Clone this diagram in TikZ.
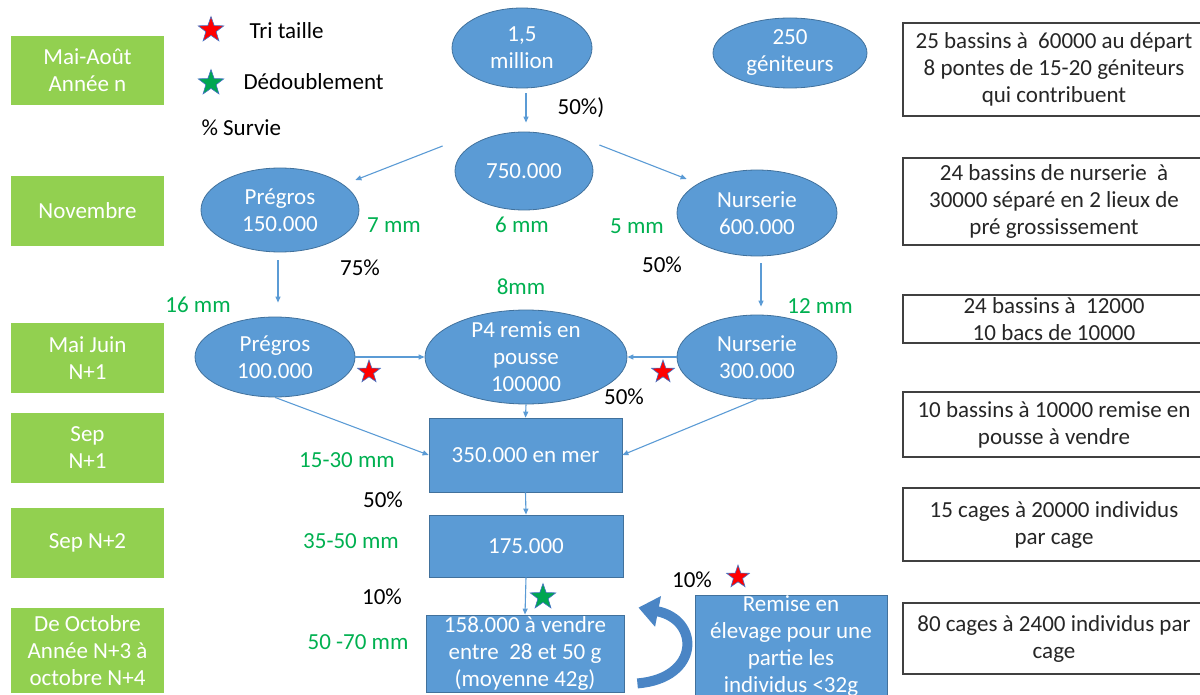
\documentclass[tikz,border=0pt]{standalone}
\usepackage{fontspec}
\setmainfont{Carlito}
\usetikzlibrary{arrows.meta,shapes.geometric}
\definecolor{vertper}{HTML}{92D050}
\definecolor{bleu}{HTML}{5B9BD5}
\definecolor{bleufonce}{HTML}{41719C}
\definecolor{vertmm}{HTML}{00B050}
\definecolor{courbe}{HTML}{4A85C5}
\definecolor{gris}{HTML}{404040}
\definecolor{texte}{HTML}{262626}
\definecolor{bleuetoile}{HTML}{4472C4}
\definecolor{vertetoile}{HTML}{00A651}
\begin{document}
\begin{tikzpicture}[x=1pt,y=-1pt,
        font=\fontsize{23}{27}\selectfont,
        periode/.style={fill=vertper,text=white,minimum width=153pt,align=center,inner sep=0pt},
        stade/.style={ellipse,fill=bleu,draw=bleufonce,line width=0.8pt,text=white,align=center,inner sep=0pt,inner ysep=-8pt},
        lot/.style={rectangle,fill=bleu,draw=bleufonce,line width=0.8pt,text=white,align=center,inner sep=0pt},
        infobox/.style={draw=gris,line width=1.3pt,fill=white,text=texte,align=center,minimum width=302pt,inner sep=0pt},
        taille/.style={text=vertmm},
        survie/.style={text=black},
        flux/.style={draw=bleu,line width=1.1pt,-{Triangle[length=6pt,width=5pt]}},
        retour/.style={draw=courbe,line width=10pt,-{Triangle[length=20pt,width=30pt]}},
        tri/.style={star,star points=5,star point ratio=2.5,fill=red,draw=bleuetoile,line width=0.6pt,minimum size=24pt,inner sep=0pt},
        dedouble/.style={tri,fill=vertetoile}]
        \useasboundingbox (0,0) rectangle (1200,695);
        \clip (0,0) rectangle (1200,695);
        \node[periode,minimum height=69pt] (per1) at (87.5,70.5) {Mai-Août\\Année n};
        \node[periode,minimum height=70pt] (per2) at (87.5,211) {Novembre};
        \node[periode,minimum height=70pt] (per3) at (87.5,358) {Mai Juin\\N+1};
        \node[periode,minimum height=70pt] (per4) at (87.5,448) {Sep\\N+1};
        \node[periode,minimum height=70pt] (per5) at (87.5,543) {Sep N+2};
        \node[periode,minimum height=85pt] (per6) at (87.5,650.5) {De Octobre\\Année N+3 à\\octobre N+4};
        \node[tri,minimum size=27pt] (legtri) at (211,30) {};
        \node[anchor=west] (legtritxt) at (246,31) {Tri taille};
        \node[dedouble,minimum size=27pt] (legded) at (211,83) {};
        \node[anchor=west] (legdedtxt) at (240,82) {Dédoublement};
        \node[anchor=west] (legsurv) at (198,128) {\% Survie};
        \node[stade,minimum width=140pt,minimum height=80pt] (e15) at (522,48) {1,5\\million};
        \node[stade,minimum width=154pt,minimum height=70pt] (e250) at (790,53) {250\\géniteurs};
        \node[stade,minimum width=138pt,minimum height=78pt] (e750) at (524,171) {750.000};
        \node[stade,minimum width=158pt,minimum height=84pt] (pregA) at (280,210) {Prégros\\150.000};
        \node[stade,minimum width=160pt,minimum height=86pt] (nursA) at (757,213) {Nurserie\\600.000};
        \node[stade,minimum width=160pt,minimum height=80pt] (pregB) at (275,357) {Prégros\\100.000};
        \node[stade,minimum width=202pt,minimum height=94pt] (p4) at (526,357) {P4 remis en\\pousse\\100000};
        \node[stade,minimum width=160pt,minimum height=84pt] (nursB) at (757,357) {Nurserie\\300.000};
        \node[lot,minimum width=193pt,minimum height=74pt] (r350) at (525.5,455) {350.000 en mer};
        \node[lot,minimum width=194pt,minimum height=62pt] (r175) at (526,546) {175.000};
        \node[lot,minimum width=198pt,minimum height=77pt] (r158) at (525,653.5) {158.000 à vendre\\entre\ \ 28 et 50 g\\(moyenne 42g)};
        \node[lot,minimum width=192pt,minimum height=102pt] (remise) at (791,646) {Remise en\\élevage pour une\\partie les\\individus <32g};
        \node[infobox,minimum height=93pt] (info1) at (1054,69.5) {25 bassins à\ \ 60000 au départ\\8 pontes de 15-20 géniteurs\\qui contribuent};
        \node[infobox,minimum height=87pt] (info2) at (1054,201.5) {24 bassins de nurserie\ \ à\\30000 séparé en 2 lieux de\\pré grossissement};
        \node[infobox,minimum height=48pt] (info3) at (1054,319) {24 bassins à\ \ 12000\\10 bacs de 10000};
        \node[infobox,minimum height=65pt] (info4) at (1054,424.5) {10 bassins à 10000 remise en\\pousse à vendre};
        \node[infobox,minimum height=73pt] (info5) at (1054,524.5) {15 cages à 20000 individus\\par cage};
        \node[infobox,minimum height=71pt] (info6) at (1054,638.5) {80 cages à 2400 individus par\\cage};
        \node[survie] (sv1) at (581,108) {50\%)};
        \node[survie] (sv2) at (360,268) {75\%};
        \node[survie] (sv3) at (662,265) {50\%};
        \node[survie] (sv4) at (624,397) {50\%};
        \node[survie] (sv5) at (383,500) {50\%};
        \node[survie] (sv6) at (382,597) {10\%};
        \node[survie] (sv7) at (692,580) {10\%};
        \node[taille] (tl1) at (394,225) {7 mm};
        \node[taille] (tl2) at (522,225) {6 mm};
        \node[taille] (tl3) at (637,226) {5 mm};
        \node[taille] (tl4) at (521,287) {8mm};
        \node[taille] (tl5) at (198,305) {16 mm};
        \node[taille] (tl6) at (820,306) {12 mm};
        \node[taille] (tl7) at (347,460) {15-30 mm};
        \node[taille] (tl8) at (351,541) {35-50 mm};
        \node[taille] (tl9) at (358,642) {50 -70 mm};
        \node[tri] (st1) at (369,372) {};
        \node[tri] (st2) at (663,372) {};
        \node[tri] (st3) at (738,577) {};
        \node[dedouble,minimum size=27pt] (st4) at (543,597) {};
        \draw[flux,shorten <=5pt,shorten >=9pt] ([xshift=4pt]e15.south) -- ([xshift=2pt]e750.north);
        \draw[flux] ([shift={(-12pt,25pt)}]e750.west) -- ([shift={(-4pt,30pt)}]pregA.east);
        \draw[flux] ([shift={(6pt,26pt)}]e750.east) -- ([shift={(10pt,34pt)}]nursA.west);
        \draw[flux,shorten <=8pt,shorten >=14pt] ([xshift=-2pt]pregA.south) -- ([xshift=3pt]pregB.north);
        \draw[flux,shorten <=7pt,shorten >=8pt] ([xshift=4pt]nursA.south) -- ([xshift=4pt]nursB.north);
        \draw[flux] (pregB.east) -- (p4.west);
        \draw[flux] (nursB.west) -- (p4.east);
        \draw[flux] (pregB.south) -- (r350.west);
        \draw[flux] (nursB.south) -- (r350.east);
        \draw[flux] (p4.south) -- (r350.north);
        \draw[flux] (r350.south) -- (r175.north);
        \draw[flux] (r175.south) -- (r158.north);
        \draw[retour] ([shift={(13pt,9pt)}]r158.south east) .. controls +(63pt,5pt) and +(62pt,-12pt) .. ([shift={(14pt,7pt)}]r158.north east);
    \end{tikzpicture}
\end{document}
